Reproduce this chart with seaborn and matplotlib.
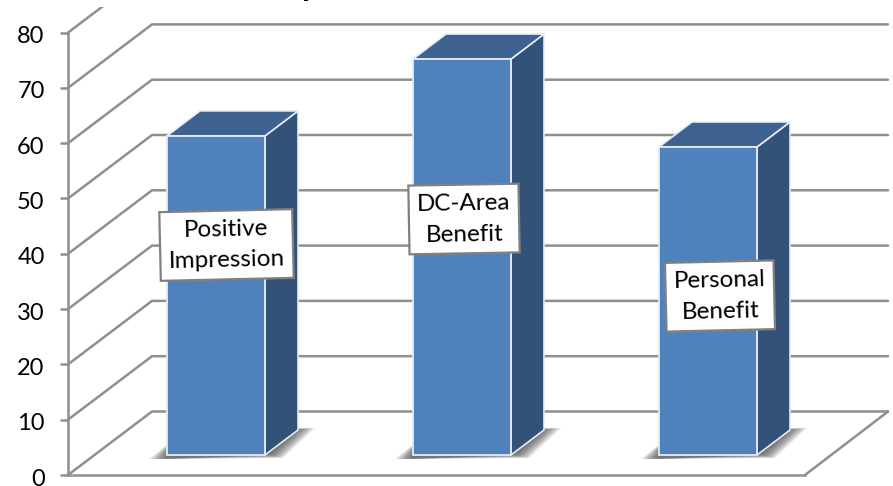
#!/usr/bin/env python3
"""Fake-3D column chart drawn on a seaborn barplot"""
import pandas as pd
import matplotlib
matplotlib.use("Agg")
import matplotlib.pyplot as plt
import matplotlib.transforms as mtrans
from matplotlib.patches import Polygon, Rectangle
import seaborn as sns

categories = ["Positive Impression", "DC-Area Benefit", "Personal Benefit"]
values = [57.7, 71.6, 55.7]
box_labels = ["Positive\nImpression", "DC-Area\nBenefit", "Personal\nBenefit"]
y_ticks = [0, 10, 20, 30, 40, 50, 60, 70, 80]

W, H = 893, 486
PX_PER_UNIT = 5.53
FRONT_COL = "#4f81bd"
SIDE_COL = "#325278"
TOP_COL = "#3d6290"
GRID_COL = "#8f8f8f"
EDGE_COL = "#e6ecf4"

sns.set_theme(style="white")
plt.rcParams["font.family"] = ["Lato", "DejaVu Sans"]

fig = plt.figure(figsize=(W / 100, H / 100), dpi=100)

# the bars live in an axes covering the whole figure, mapped to the picture
ax = fig.add_axes([0, 0, 1, 1])
ax.patch.set_alpha(0)
df = pd.DataFrame({"category": categories, "value": values})
sns.barplot(data=df, x="category", y="value", ax=ax, color=FRONT_COL, saturation=1,
            width=98 / 246, edgecolor=EDGE_COL, linewidth=1.3, zorder=5)
ax.set_xlim(-216 / 246, (W - 216) / 246)
ax.set_ylim(-(H - 455) / PX_PER_UNIT, 455 / PX_PER_UNIT)
ax.axis("off")


def to_px(x, y):
    return ax.transData.transform((x, y))


def px_line(xs, ys, **kwargs):
    # y counted from the top of the picture
    return ax.plot(xs, [H - y for y in ys], transform=None, **kwargs)[0]


# walls and floor, the plot area stops 7px below the top of the picture
AX_X, FLOOR_Y = 68, 475
BACK_DX, BACK_DY = 84, 63.5
RIGHT_X = 888
FLOOR_RIGHT = 805
clip_box = Rectangle((0, 0), W, H - 7, transform=None)
for v in y_ticks:
    front_y = FLOOR_Y - v * PX_PER_UNIT
    back_y = front_y - BACK_DY
    line = px_line([AX_X, AX_X + BACK_DX, RIGHT_X], [front_y, back_y, back_y],
                   color=GRID_COL, lw=1.8, zorder=1, solid_joinstyle="miter")
    line.set_clip_path(clip_box)
px_line([FLOOR_RIGHT, RIGHT_X], [FLOOR_Y, FLOOR_Y - BACK_DY], color=GRID_COL, lw=1.8, zorder=1)

# real axis for the ticks and the front floor edge
ax2 = fig.add_axes([AX_X / W, (H - FLOOR_Y) / H, (FLOOR_RIGHT - AX_X) / W, 80 * PX_PER_UNIT / H])
ax2.patch.set_alpha(0)
ax2.set_ylim(0, 80)
ax2.set_xticks([])
ax2.set_yticks(y_ticks)
ax2.tick_params(axis="y", length=5.8, width=1.8, color=GRID_COL, labelsize=17,
                labelcolor="black", pad=11, left=True)
sns.despine(ax=ax2, top=True, right=True)
for side in ["left", "bottom"]:
    ax2.spines[side].set_color(GRID_COL)
    ax2.spines[side].set_linewidth(1.8)
    ax2.spines[side].set_visible(True)
# tick labels sit a little under their ticks in the original
nudge = mtrans.ScaledTranslation(0, -2 / 100, fig.dpi_scale_trans)
for label in ax2.get_yticklabels():
    label.set_transform(label.get_transform() + nudge)

# depth faces and shadows, taken from each bar patch
fig.canvas.draw()
DX, DY = 33, 25
for bar in ax.patches:
    x0, y0 = to_px(bar.get_x(), 0)
    x1, y1 = to_px(bar.get_x() + bar.get_width(), bar.get_height())
    # px coordinates here are measured from the bottom of the figure
    for i in range(10):
        t = 1 - i / 10
        ax.add_artist(Polygon([(x0 - 18 * t, y0 - 4), (x0 + 6, y0 + 15), (x1 + DX + 17 * t, y0 + DY + 2),
                               (x1 + 4 + 14 * t, y0 + 1 - 4 * t)],
                              closed=True, transform=None, facecolor="#3c3c3c", lw=0,
                              alpha=0.11, zorder=2))
    ax.add_artist(Polygon([(x1, y0), (x1 + DX, y0 + DY), (x1 + DX, y1 + DY), (x1, y1)], closed=True,
                          transform=None, facecolor=SIDE_COL, edgecolor=EDGE_COL, lw=1.2, zorder=4))
    ax.add_artist(Polygon([(x0, y1), (x0 + DX, y1 + DY), (x1 + DX, y1 + DY), (x1, y1)], closed=True,
                          transform=None, facecolor=TOP_COL, edgecolor=EDGE_COL, lw=1.2, zorder=4))

# hand placed label boxes
box_spots = [(226.5, 245, 1.3), (464, 219, 1.0), (720, 296, 1.3)]
for text, (px, py, rot) in zip(box_labels, box_spots):
    fig.text(px / W, 1 - py / H, text, ha="center", va="center", fontsize=17.5, rotation=rot,
             color="black", linespacing=1.6, zorder=10,
             bbox=dict(boxstyle="square,pad=0.34", facecolor="white", edgecolor="#808080", lw=1.6))

# the title is cropped off the top, only its descender shows
fig.text(302 / W, 1 + 4 / H, "p", ha="left", va="baseline", fontsize=24, fontweight="bold", color="black")

fig.savefig("out.png", dpi=100)
